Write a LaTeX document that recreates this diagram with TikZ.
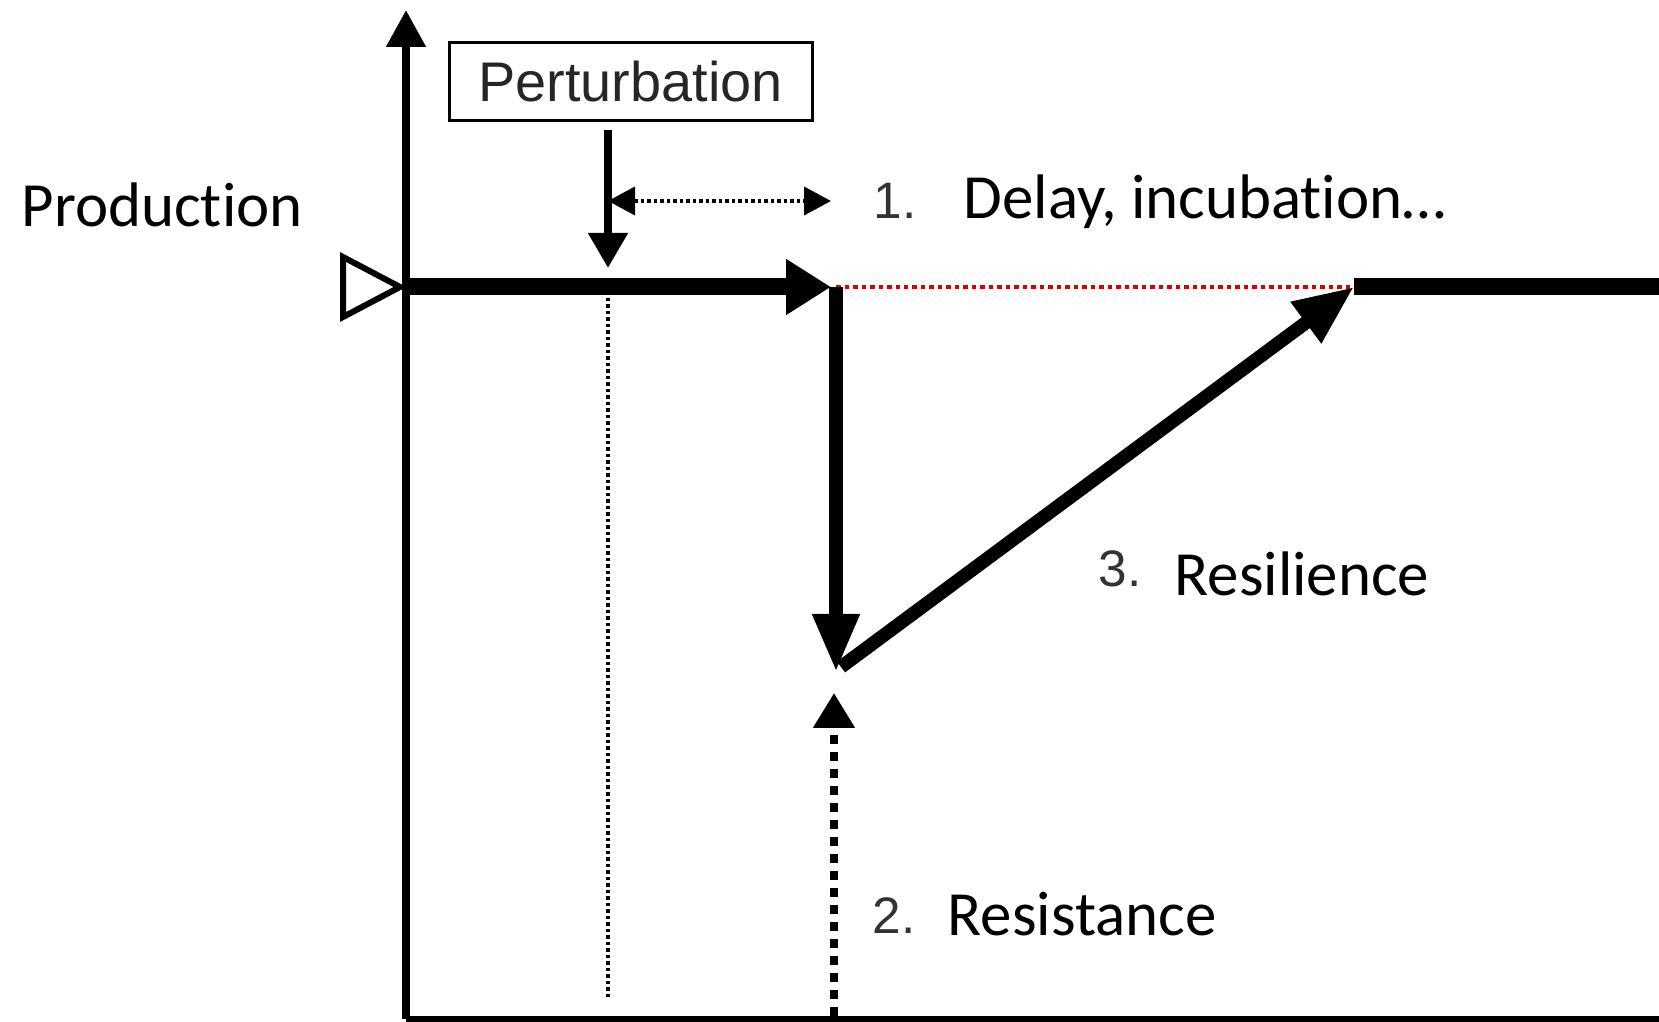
\documentclass[tikz,border=0pt]{standalone}
\usepackage{fontspec}
\setmainfont[Ligatures=NoCommon]{Carlito}
\newfontfamily\arialfont{Liberation Sans}
\usetikzlibrary{arrows.meta}

\begin{document}
\begin{tikzpicture}
    \tikzstyle{bigtext} = [inner sep=0pt,font=\fontsize{17.9}{20}\selectfont]
    \tikzstyle{numtext} = [inner sep=0pt,text=black!80,font=\arialfont\fontsize{14.6}{17}\selectfont]
    \tikzstyle{axisline} = [line width=.08cm]
    \tikzstyle{levelline} = [line width=.17cm]
    \tikzstyle{jumpline} = [line width=.135cm]
    \tikzstyle{dotline} = [line width=.038cm,dash pattern=on .035cm off .03cm]
    \tikzstyle{reddots} = [red!85!black,line width=.045cm,dash pattern=on .045cm off .04cm]
    \tikzstyle{squaredots} = [line width=.08cm,dash pattern=on .09cm off .08cm]

    \useasboundingbox (0,0) rectangle (16.59,10.22);

    % axes
    \coordinate (origin) at (4.06,.03);
    \coordinate (ytop) at (4.06,10.12);
    \coordinate (xend) at (16.59,.03);
    \draw[axisline,-{Triangle[length=.37cm,width=.38cm]}] (origin)--(ytop);
    \draw[line width=.06cm] (origin)--(xend);
    \draw[line width=.06cm,fill=white] (3.43,7.65)--(3.43,7.05)--(4.00,7.35)--cycle;

    % production level
    \coordinate (level) at (4.06,7.35);
    \coordinate (hit) at (8.31,7.35);
    \coordinate (droptop) at (8.36,7.35);
    \coordinate (dropbottom) at (8.36,3.50);
    \coordinate (risestart) at (8.41,3.55);
    \coordinate (back) at (13.54,7.35);
    \coordinate (levelend) at (16.59,7.35);
    \draw[levelline,-{Triangle[length=.45cm,width=.53cm]}] (level)--(hit);
    \draw[reddots] (droptop)--(back);
    \draw[levelline] (back)--(levelend);
    \draw[jumpline,-{Triangle[length=.58cm,width=.44cm]}] (droptop)--(dropbottom);
    \draw[jumpline,-{Triangle[length=.6cm,width=.48cm]}] (risestart)--(back);

    % perturbation
    \node[draw,line width=.03cm,minimum width=3.63cm,minimum height=.78cm,
          inner sep=0pt,text=black!85,font=\arialfont\fontsize{15.9}{18}\selectfont]
          (pert) at (6.305,9.40) {Perturbation};
    \coordinate (pertfoot) at (6.08,8.92);
    \coordinate (pertdate) at (6.08,7.54);
    \draw[axisline,-{Triangle[length=.35cm,width=.38cm]}] (pertfoot)--(pertdate);
    \coordinate (delaystart) at (6.08,8.21);
    \coordinate (delayend) at (8.31,8.21);
    \draw[dotline,{Triangle[length=.27cm,width=.28cm]}-{Triangle[length=.27cm,width=.28cm]}]
          (delaystart)--(delayend);
    \coordinate (marktop) at (6.08,7.24);
    \coordinate (markfoot) at (6.08,.25);
    \draw[dotline] (marktop)--(markfoot);

    % resistance
    \coordinate (resfoot) at (8.34,.06);
    \coordinate (restip) at (8.34,3.29);
    \draw[squaredots,-{Triangle[length=.35cm,width=.40cm]}] (resfoot)--(restip);

    % labels
    \node[bigtext,anchor=base west] (prod) at (.21,7.95) {Production};
    \node[numtext,anchor=base] (one) at (8.95,8.03) {1.};
    \node[bigtext,anchor=base west] (delay) at (9.63,8.03) {Delay, incubation…};
    \node[numtext,anchor=base] (three) at (11.20,4.35) {3.};
    \node[bigtext,anchor=base west] (resil) at (11.74,4.26) {Resilience};
    \node[numtext,anchor=base] (two) at (8.94,.88) {2.};
    \node[bigtext,anchor=base west] (resist) at (9.47,.86) {Resistance};
\end{tikzpicture}
\end{document}
